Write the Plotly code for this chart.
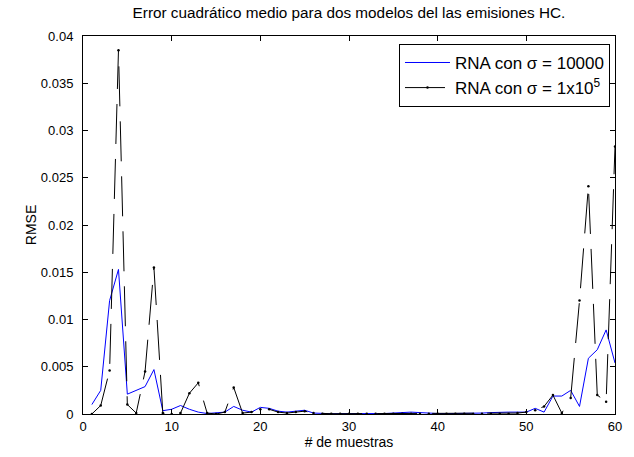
import plotly.graph_objects as go

muestras = list(range(1, 61))

rmse_sigma_1e4 = [
    0.0010, 0.0025, 0.0120, 0.0153, 0.0021, 0.0025, 0.0029, 0.0047, 0.00035, 0.0005,
    0.0009, 0.0005, 0.0002, 0.00005, 0.0001, 0.0002, 0.0008, 0.0004, 0.0002, 0.0007,
    0.0006, 0.0003, 0.0002, 0.0003, 0.0004, 0.0001, 0.00005, 0.00003, 0.00004, 0.00003,
    0.00005, 0.00004, 0.00003, 0.00005, 0.0001, 0.00015, 0.0002, 0.00015, 0.00008, 0.00005,
    0.00004, 0.00005, 0.00004, 0.00006, 0.0001, 0.00015, 0.0002, 0.0002, 0.0002, 0.0002,
    0.0006, 0.0002, 0.0019, 0.0019, 0.0025, 0.0008, 0.0059, 0.0068, 0.0089, 0.0054,
]

rmse_sigma_1e5 = [
    0.0000, 0.0009, 0.0046, 0.0385, 0.0010, 0.0001, 0.0045, 0.0155, 0.0001, 0.0000,
    0.0001, 0.0022, 0.0033, 0.0001, 0.0000, 0.0002, 0.0028, 0.0001, 0.0002, 0.0005,
    0.0005, 0.0002, 0.0001, 0.0002, 0.0003, 0.0001, 0.00003, 0.00003, 0.00003, 0.00003,
    0.00003, 0.00003, 0.00003, 0.00003, 0.00003, 0.00003, 0.00003, 0.00003, 0.00003, 0.00003,
    0.00003, 0.00003, 0.00003, 0.00003, 0.00003, 0.00003, 0.00003, 0.00003, 0.0001, 0.0002,
    0.0004, 0.0008, 0.0020, 0.0001, 0.0017, 0.0120, 0.0241, 0.0020, 0.0013, 0.0283,
]

x_ticks = [0, 10, 20, 30, 40, 50, 60]
y_ticks = [0, 0.005, 0.01, 0.015, 0.02, 0.025, 0.03, 0.035, 0.04]
y_tick_text = ["0", "0.005", "0.01", "0.015", "0.02", "0.025", "0.03", "0.035", "0.04"]

FONT = "Liberation Sans, Arial, Helvetica, sans-serif"

fig = go.Figure()
fig.add_trace(go.Scatter(
    x=muestras, y=rmse_sigma_1e4, mode="lines",
    name="RNA con σ = 10000",
    line=dict(color="#0000ff", width=1),
))
fig.add_trace(go.Scatter(
    x=muestras, y=rmse_sigma_1e5, mode="lines+markers",
    name="RNA con σ = 1x10<sup>5</sup>",
    line=dict(color="#000000", width=1, dash="40px,15px"),
    marker=dict(color="#000000", size=2.5),
))

axis_common = dict(
    showline=True, linecolor="black", linewidth=1, mirror="ticks",
    ticks="inside", ticklen=5, tickcolor="black", tickwidth=1,
    showgrid=False, zeroline=False,
    tickfont=dict(family=FONT, size=13, color="black"),
)

fig.update_layout(
    width=634, height=457,
    margin=dict(l=83, r=19, t=36, b=41),
    paper_bgcolor="white", plot_bgcolor="white",
    font=dict(family=FONT, size=13, color="black"),
    title=dict(
        text="Error cuadrático medio para dos modelos del las emisiones HC.",
        x=0.5, xref="paper", xanchor="center",
        y=1 - 13 / 457, yref="container", yanchor="middle",
        font=dict(family=FONT, size=15.3, color="black"),
    ),
    xaxis=dict(
        range=[0, 60], tickvals=x_ticks,
        title=dict(text="# de muestras", standoff=2,
                   font=dict(family=FONT, size=14, color="black")),
        **axis_common,
    ),
    yaxis=dict(
        range=[0, 0.04], tickvals=y_ticks, ticktext=y_tick_text,
        ticklabelstandoff=6,
        title=dict(text="RMSE", standoff=0,
                   font=dict(family=FONT, size=14, color="black")),
        **axis_common,
    ),
    legend=dict(
        x=0.9906, xanchor="right", y=0.979, yanchor="top",
        bordercolor="black", borderwidth=1, bgcolor="white",
        font=dict(family=FONT, size=17, color="black"),
        tracegroupgap=0, itemwidth=45,
    ),
    showlegend=True,
)

fig.write_html("out.html")
